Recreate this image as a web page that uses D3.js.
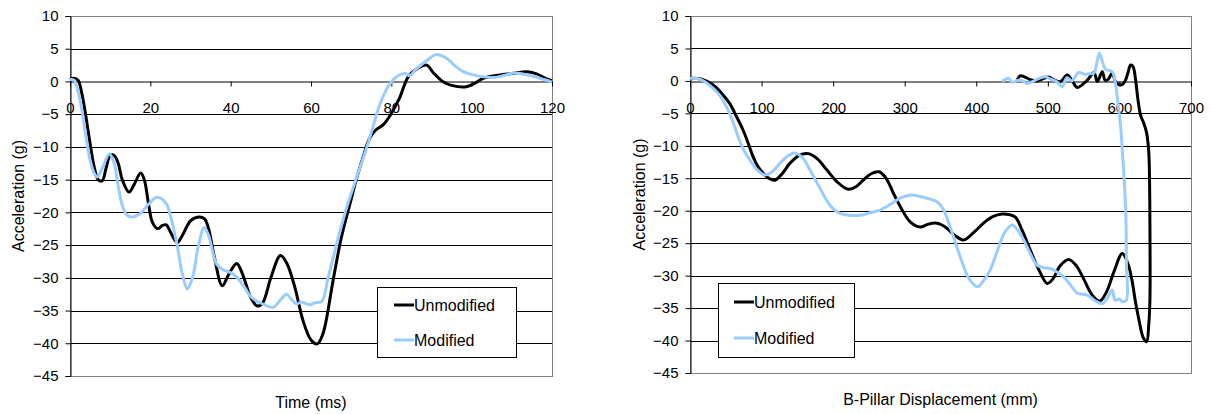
<!DOCTYPE html>
<html>
<head>
<meta charset="utf-8">
<script src="https://cdn.jsdelivr.net/npm/d3@7"></script>
<style>
  html, body { margin: 0; padding: 0; background: #fff; }
  svg { display: block; font-family: "Liberation Sans", Arial, sans-serif; }
</style>
</head>
<body>
<svg id="chart" width="1211" height="414"></svg>
<script>
// ---- Data ----------------------------------------------------------------
const seriesNames = ["Unmodified", "Modified"];
const seriesColors = ["#000000", "#99CCFF"];

const timeTicks = [0, 20, 40, 60, 80, 100, 120];
const dispTicks = [0, 100, 200, 300, 400, 500, 600, 700];
const accelTicks = [10, 5, 0, -5, -10, -15, -20, -25, -30, -35, -40, -45];

// Acceleration (g) against time (ms)
const unmodifiedVsTime = [
  [0,0.3],[1,0.5],[2,0.2],[3,-2],[4,-5.5],[5,-9.5],[6,-13],[7,-15],[8,-15.2],[9,-13.2],
  [10,-11.3],[11,-11.3],[12,-12.5],[13,-15],[14.7,-16.9],[16,-15.7],[17.6,-14],[18.5,-15],
  [19.5,-18.5],[20.5,-21.5],[21.8,-22.5],[23,-22],[24,-21.9],[25,-23],[26.7,-24.6],[28,-23.5],
  [30,-21.3],[32,-20.7],[33.5,-21],[34.5,-22.5],[36,-27],[37.9,-31.2],[39.5,-29.5],[41.5,-27.8],
  [43,-29.5],[45,-33],[46.6,-34.3],[48,-33.8],[50,-30],[52.4,-26.6],[54,-27.8],[56,-31.5],
  [58,-36.5],[60,-39.5],[61.6,-40.1],[63,-38.5],[65.5,-30.4],[67.5,-24],[69.7,-18.7],[71.5,-14.5],
  [73,-11.5],[74.5,-8.8],[76,-7.5],[78,-6.6],[79.7,-5.2],[82,-2.6],[84.2,0.7],[86.5,2],[88.8,2.5],
  [90.5,1.3],[92.9,-0.05],[95,-0.6],[98.7,-0.8],[101,-0.2],[103,0.5],[107,1.0],[110,1.2],
  [113.7,1.5],[116,1.2],[118,0.6],[120,0.1]
];
const modifiedVsTime = [
  [0,0.3],[1,0.2],[2,-1.5],[3,-4.5],[4,-8.5],[5,-12],[6,-14],[6.8,-14.6],[8,-13.3],[9.8,-11.1],
  [11,-12.5],[12,-16],[12.9,-18.7],[14,-20.3],[15,-20.7],[17.4,-20.2],[19.5,-18.8],[21.6,-17.7],
  [23.9,-18.6],[25,-20.5],[26.6,-24.8],[28,-29.5],[29.2,-31.7],[30.5,-30],[32,-25],[33.4,-22.3],
  [34.5,-23.5],[36.5,-27.9],[38.2,-28.8],[40,-29.2],[41.5,-29.9],[43.5,-31.5],[45.2,-33],[48,-34],
  [50.6,-34.5],[52.5,-33.3],[53.9,-32.5],[55,-33.2],[56.4,-34],[57.5,-33.7],[59.7,-34.1],[61,-33.8],
  [62.7,-33.6],[64.3,-29.9],[66.4,-24.8],[68.9,-19.2],[71.4,-14.6],[73.9,-10],[75.5,-6.8],
  [77.2,-3.4],[79.7,-0.3],[81.5,0.8],[83.4,1.2],[84.6,0.9],[86,1.8],[88,2.8],[89.5,3.5],[91.1,4.1],
  [93.8,3.5],[96,2.3],[97.9,1.5],[100.4,1.0],[105.4,0.6],[108,0.9],[110.4,1.3],[113,1.1],
  [115.3,0.8],[118,0.3],[120,-0.1]
];

// Acceleration (g) against B-pillar displacement (mm), in recorded order
const unmodifiedVsDisp = [
  [0,0.4],[15,0.3],[32,-0.6],[45,-2],[55.6,-3.5],[65,-5.5],[74.2,-7.6],[82,-9.8],[88.2,-11.7],
  [95,-13.2],[102,-14.2],[110,-15],[118.6,-15.3],[128,-14.4],[139.6,-12.7],[152,-11.5],[165.2,-11.2],
  [178,-12],[191,-13.7],[205,-15.5],[221,-16.7],[232,-16.3],[242,-15.3],[253,-14.3],[264.2,-14],
  [274,-15],[284.2,-17.3],[296,-19.8],[307.6,-21.7],[321.6,-22.5],[332,-22.1],[342.6,-21.9],
  [352,-22.2],[359,-22.7],[370,-23.8],[382.2,-24.5],[395,-23.5],[410.2,-21.9],[423,-20.9],
  [436,-20.5],[446,-20.6],[454.6,-21],[464,-23],[475.6,-26.1],[487,-29],[499,-31.2],[507,-30.5],
  [517,-28.5],[529.2,-27.5],[540,-28.5],[550,-30.5],[562,-33],[572.6,-33.9],[582,-32.5],
  [592,-29.5],[604,-26.6],[612,-28.2],[618,-31],[622,-33.8],[628,-37.2],[633,-39.5],[638,-40.2],
  [641,-37.5],[642.6,-33.8],[642.8,-26],[642.4,-18.4],[641,-11],[638,-8],[634,-6.5],[629.6,-5.3],
  [626,-3],[622,0.65],[619,2.2],[615.6,2.45],[612,1.3],[608,0],[603,-0.6],[598,-0.5],[594,0],
  [590,1.2],[584,0.2],[580,0.1],[576,1.4],[569,-0.1],[564.4,1.3],[555,0.1],[541,-1.0],[534,0],
  [527,0.9],[517.6,-0.1],[508.2,0.2],[501,0.6],[485,0.0],[475.6,0.2],[461.6,0.8],[457,0.1]
];
const modifiedVsDisp = [
  [0,0.4],[15,0.2],[32,-1.1],[42,-2.3],[51,-4],[60,-6.3],[67.2,-8.6],[75,-10.6],[83.6,-12.2],
  [93,-13.6],[104.6,-14.5],[115,-14],[125.6,-12.7],[136,-11.6],[146.6,-11.1],[157,-11.8],
  [167.6,-13.7],[180,-16.2],[191,-18.4],[200,-19.7],[209.6,-20.4],[222,-20.7],[237.6,-20.7],
  [252,-20.3],[265.6,-19.9],[280,-19],[295,-18],[307.6,-17.6],[321.6,-17.8],[335,-18.2],
  [345,-18.6],[351,-19.3],[356.6,-20.4],[365,-23],[377.6,-27.1],[390,-30.5],[401.8,-31.7],
  [410,-30.8],[419.6,-29.1],[430,-26],[440,-23.3],[450,-22.2],[458,-23],[466.2,-24.5],[475,-26.5],
  [485,-28.4],[495,-28.8],[503.6,-28.9],[512,-29.4],[522.2,-30.2],[532,-31.5],[541,-32.7],
  [555,-33.0],[565,-33.8],[576,-34.3],[584,-33.3],[590,-32.2],[594,-33.8],[600,-33.6],[604,-34],
  [609.6,-33.8],[609.8,-28],[609,-20.9],[607,-15.8],[604,-10.6],[601.6,-7],[598,-3.5],[594,-0.1],
  [590,1.4],[580.6,1.8],[572,4.25],[568,2.5],[564.2,1.2],[558,1.1],[552.4,1.0],[543,1.3],
  [538,0.6],[533.6,0],[526.6,0.5],[520,-0.9],[515,-0.4],[510.6,0],[503,0.3],[496.6,0.65],
  [488,0.4],[480.4,0],[471,-0.4],[465,0.0],[459,0.1],[450,-0.2],[445,0.4],[436,-0.1]
];

// ---- Layout --------------------------------------------------------------
const svg = d3.select("#chart");

const panels = [
  {
    left: 70, right: 552, top: 16, bottom: 376,
    xDomain: [0, 120], xTicks: timeTicks, xTitle: "Time (ms)",
    series: [unmodifiedVsTime, modifiedVsTime],
    yTitleX: 24, xTitleY: 408,
    legend: { x: 377, y: 287, w: 139, h: 70, row1: 305, row2: 340, lineX: 394 }
  },
  {
    left: 690, right: 1191, top: 16, bottom: 373,
    xDomain: [0, 700], xTicks: dispTicks, xTitle: "B-Pillar Displacement (mm)",
    series: [unmodifiedVsDisp, modifiedVsDisp],
    yTitleX: 645, xTitleY: 405,
    legend: { x: 718, y: 283, w: 136, h: 74, row1: 302, row2: 338, lineX: 734 }
  }
];

panels.forEach(p => {
  const x = d3.scaleLinear().domain(p.xDomain).range([p.left, p.right]);
  const y = d3.scaleLinear().domain([-45, 10]).range([p.bottom, p.top]);
  const g = svg.append("g");

  // horizontal gridlines
  g.append("g")
    .selectAll("line")
    .data(accelTicks.filter(v => v !== 10 && v !== -45 && v !== 0))
    .join("line")
    .attr("x1", p.left).attr("x2", p.right)
    .attr("y1", d => Math.round(y(d)) + 0.5).attr("y2", d => Math.round(y(d)) + 0.5)
    .attr("stroke", "#000").attr("stroke-width", 1);

  // plot area border
  g.append("rect")
    .attr("x", p.left + 0.5).attr("y", Math.round(p.top) + 0.5)
    .attr("width", p.right - p.left).attr("height", Math.round(p.bottom) - Math.round(p.top))
    .attr("fill", "none").attr("stroke", "#808080").attr("stroke-width", 1);

  // y axis
  const yAxis = d3.axisLeft(y).tickValues(accelTicks).tickSize(5).tickPadding(7)
    .tickFormat(d3.format("d"));
  const ya = g.append("g").attr("transform", `translate(${p.left + 0.5},0)`).call(yAxis);
  ya.select(".domain").attr("stroke", "#000");
  ya.selectAll(".tick line").attr("stroke", "#000");
  ya.selectAll(".tick text")
    .attr("font-size", 15).attr("fill", "#000")
    .attr("font-family", "'Liberation Sans', Arial, sans-serif");

  // x axis along zero
  const xAxis = d3.axisBottom(x).tickValues(p.xTicks).tickSize(5).tickPadding(16)
    .tickSizeOuter(0).tickFormat(d3.format("d"));
  const xa = g.append("g").attr("transform", `translate(0,${Math.round(y(0)) + 0.5})`).call(xAxis);
  xa.select(".domain").attr("stroke", "#000");
  xa.selectAll(".tick line").attr("stroke", "#000");
  xa.selectAll(".tick text")
    .attr("font-size", 15).attr("fill", "#000")
    .attr("font-family", "'Liberation Sans', Arial, sans-serif");

  // curves
  const line = d3.line()
    .x(d => x(d[0])).y(d => y(d[1]))
    .curve(d3.curveCatmullRom.alpha(0.5));
  p.series.forEach((s, i) => {
    g.append("path")
      .datum(s)
      .attr("d", line)
      .attr("fill", "none")
      .attr("stroke", seriesColors[i])
      .attr("stroke-width", 3)
      .attr("stroke-linejoin", "round");
  });

  // axis titles
  g.append("text")
    .attr("transform", `translate(${p.yTitleX},${(p.top + p.bottom) / 2}) rotate(-90)`)
    .attr("text-anchor", "middle").attr("font-size", 16).attr("fill", "#000")
    .text("Acceleration (g)");
  g.append("text")
    .attr("x", (p.left + p.right) / 2).attr("y", p.xTitleY)
    .attr("text-anchor", "middle").attr("font-size", 16).attr("fill", "#000")
    .text(p.xTitle);

  // legend
  const L = p.legend;
  const lg = g.append("g");
  lg.append("rect")
    .attr("x", L.x + 0.5).attr("y", L.y + 0.5).attr("width", L.w).attr("height", L.h)
    .attr("fill", "#fff").attr("stroke", "#000").attr("stroke-width", 1);
  [L.row1, L.row2].forEach((ry, i) => {
    lg.append("line")
      .attr("x1", L.lineX).attr("x2", L.lineX + 20)
      .attr("y1", ry).attr("y2", ry)
      .attr("stroke", seriesColors[i]).attr("stroke-width", 3);
    lg.append("text")
      .attr("x", L.lineX + 20).attr("y", ry + 6)
      .attr("font-size", 16).attr("fill", "#000")
      .text(seriesNames[i]);
  });
});
</script>
</body>
</html>
